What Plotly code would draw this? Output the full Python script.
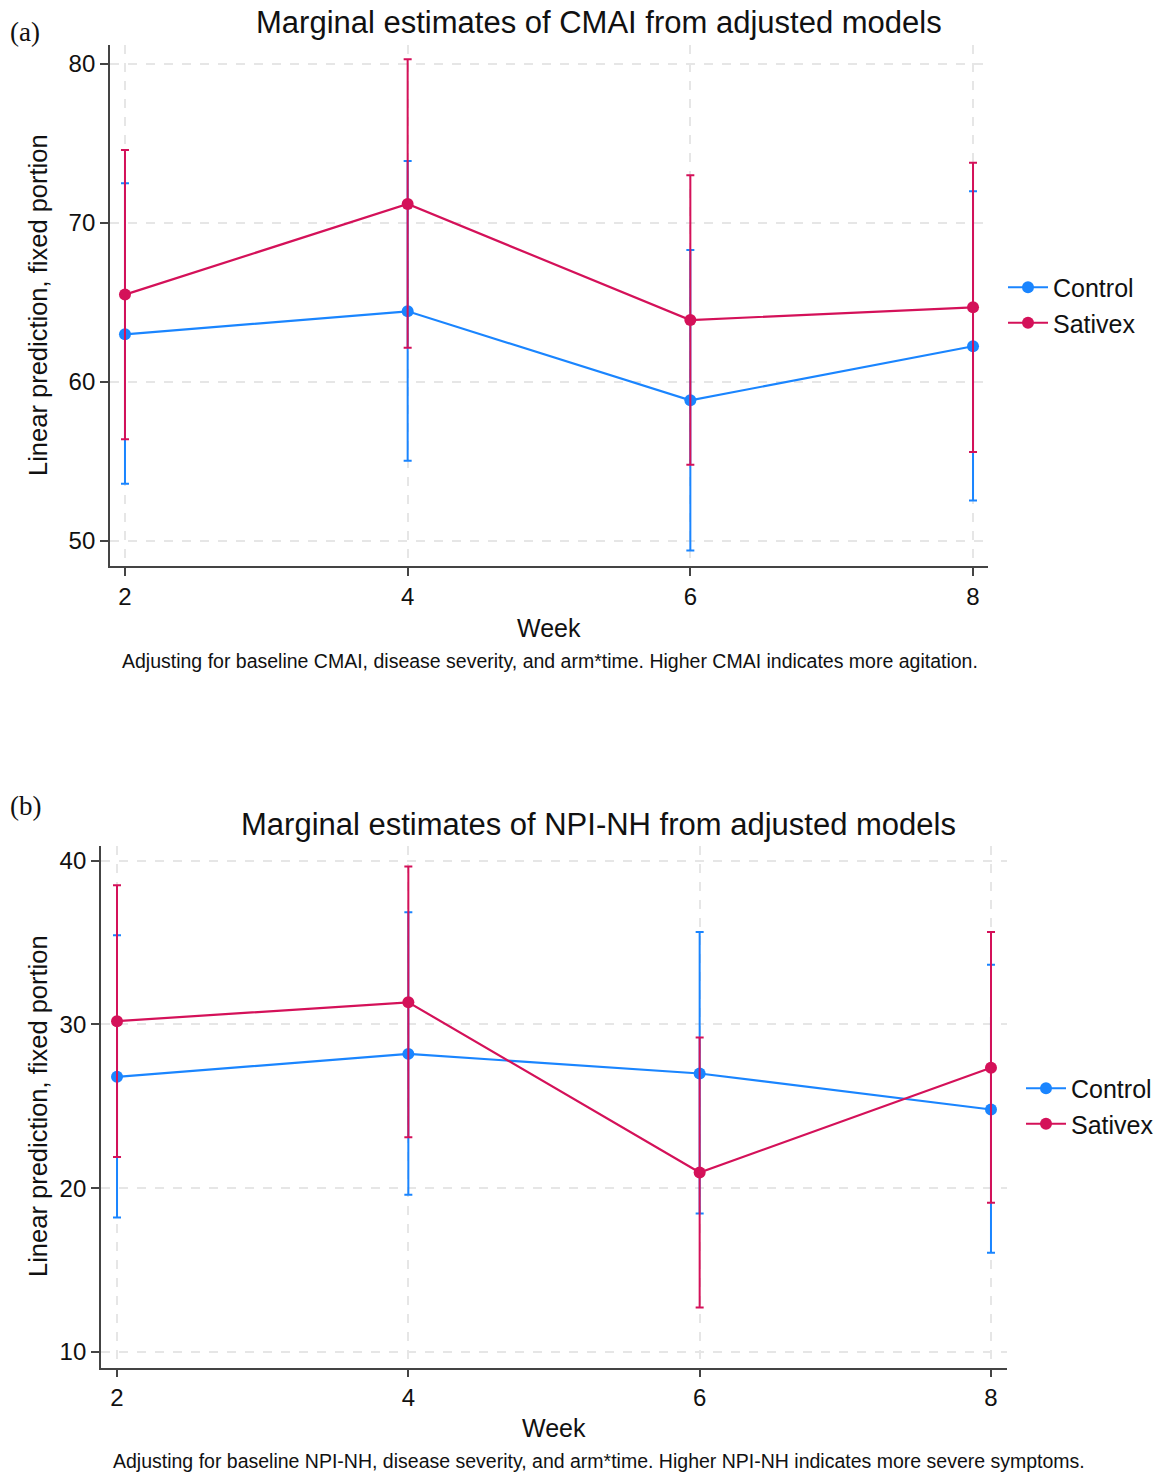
import plotly.graph_objects as go

weeks = [2, 4, 6, 8]

# Panel (a): CMAI
cmai_control = [63.0, 64.45, 58.85, 62.25]
cmai_control_lo = [53.6, 55.05, 49.4, 52.55]
cmai_control_hi = [72.5, 73.9, 68.3, 72.0]
cmai_sativex = [65.5, 71.2, 63.9, 64.7]
cmai_sativex_lo = [56.4, 62.15, 54.8, 55.6]
cmai_sativex_hi = [74.6, 80.3, 73.0, 73.8]

# Panel (b): NPI-NH
npi_control = [26.8, 28.2, 27.0, 24.8]
npi_control_lo = [18.2, 19.6, 18.45, 16.05]
npi_control_hi = [35.45, 36.85, 35.65, 33.65]
npi_sativex = [30.2, 31.35, 20.95, 27.35]
npi_sativex_lo = [21.9, 23.1, 12.7, 19.1]
npi_sativex_hi = [38.5, 39.65, 29.2, 35.65]

series_names = ["Control", "Sativex"]
x_ticks = [2, 4, 6, 8]
cmai_yticks = [50, 60, 70, 80]
npi_yticks = [10, 20, 30, 40]

BLUE = "#1a85ff"
RED = "#d41159"
W, H = 1173, 1475

fig = go.Figure()


def add_series(x, y, lo, hi, color, name, xa, ya, legend):
    fig.add_trace(go.Scatter(
        x=x, y=y, mode="lines+markers", name=name,
        line=dict(color=color, width=2.2),
        marker=dict(color=color, size=12),
        error_y=dict(type="data", symmetric=False,
                     array=[h - v for h, v in zip(hi, y)],
                     arrayminus=[v - l for v, l in zip(y, lo)],
                     color=color, thickness=2, width=4),
        xaxis=xa, yaxis=ya, legend=legend, showlegend=True,
    ))


add_series(weeks, cmai_control, cmai_control_lo, cmai_control_hi, BLUE, series_names[0], "x", "y", "legend")
add_series(weeks, cmai_sativex, cmai_sativex_lo, cmai_sativex_hi, RED, series_names[1], "x", "y", "legend")
add_series(weeks, npi_control, npi_control_lo, npi_control_hi, BLUE, series_names[0], "x2", "y2", "legend2")
add_series(weeks, npi_sativex, npi_sativex_lo, npi_sativex_hi, RED, series_names[1], "x2", "y2", "legend2")


def px_x(p):
    return p / W


def px_y(p):
    return 1 - p / H


sans = "Liberation Sans, Arial"

axis_common = dict(
    showline=True, linecolor="#444444", linewidth=1.8,
    ticks="outside", ticklen=8, tickwidth=1.5, tickcolor="#444444",
    showgrid=True, gridcolor="#e6e6e6", gridwidth=1.5, griddash="dash",
    zeroline=False, mirror=False,
    tickfont=dict(family=sans, size=24, color="#111111"),
)

fig.update_layout(
    width=W, height=H,
    paper_bgcolor="white", plot_bgcolor="white",
    margin=dict(l=0, r=0, t=0, b=0),
    xaxis=dict(domain=[px_x(110), px_x(988)], range=[1.894, 8.106],
               tickvals=x_ticks, anchor="y", **axis_common),
    yaxis=dict(domain=[px_y(566), px_y(45)], range=[48.43, 81.2],
               tickvals=cmai_yticks, anchor="x", **axis_common),
    xaxis2=dict(domain=[px_x(101), px_x(1007)], range=[1.89, 8.11],
                tickvals=x_ticks, anchor="y2", **axis_common),
    yaxis2=dict(domain=[px_y(1367.5), px_y(846)], range=[9.04, 40.9],
                tickvals=npi_yticks, anchor="x2", **axis_common),
    legend=dict(x=px_x(1003), y=px_y(305), xanchor="left", yanchor="middle",
                font=dict(family=sans, size=25, color="#111111"),
                bgcolor="rgba(0,0,0,0)", tracegroupgap=0, itemwidth=40),
    legend2=dict(x=px_x(1021), y=px_y(1106), xanchor="left", yanchor="middle",
                 font=dict(family=sans, size=25, color="#111111"),
                 bgcolor="rgba(0,0,0,0)", tracegroupgap=0, itemwidth=40),
    showlegend=True,
)

annots = [
    dict(text="Marginal estimates of CMAI from adjusted models", x=px_x(599), y=px_y(23), size=31),
    dict(text="Marginal estimates of NPI-NH from adjusted models", x=px_x(598), y=px_y(824), size=31),
    dict(text="Week", x=px_x(549), y=px_y(628), size=25),
    dict(text="Week", x=px_x(554), y=px_y(1428), size=25),
    dict(text="Adjusting for baseline CMAI, disease severity, and arm*time. Higher CMAI indicates more agitation.",
         x=px_x(550), y=px_y(661), size=19.5),
    dict(text="Adjusting for baseline NPI-NH, disease severity, and arm*time. Higher NPI-NH indicates more severe symptoms.",
         x=px_x(599), y=px_y(1461), size=19.5),
]
for a in annots:
    fig.add_annotation(text=a["text"], x=a["x"], y=a["y"], xref="paper", yref="paper",
                       xanchor="center", yanchor="middle", showarrow=False,
                       font=dict(family=sans, size=a["size"], color="#111111"))

for yc in [305, 1106]:
    fig.add_annotation(text="Linear prediction, fixed portion", x=px_x(38), y=px_y(yc),
                       xref="paper", yref="paper", xanchor="center", yanchor="middle",
                       textangle=-90, showarrow=False,
                       font=dict(family=sans, size=25.5, color="#111111"))

for lab, yc in [("(a)", 32), ("(b)", 806)]:
    fig.add_annotation(text=lab, x=px_x(8), y=px_y(yc), xref="paper", yref="paper",
                       xanchor="left", yanchor="middle", showarrow=False,
                       font=dict(family="Liberation Serif, Times New Roman", size=27, color="#111111"))

fig.write_html("out.html", config={"displayModeBar": False},
               post_script="document.body.style.margin='0px';document.body.style.overflow='hidden';")
